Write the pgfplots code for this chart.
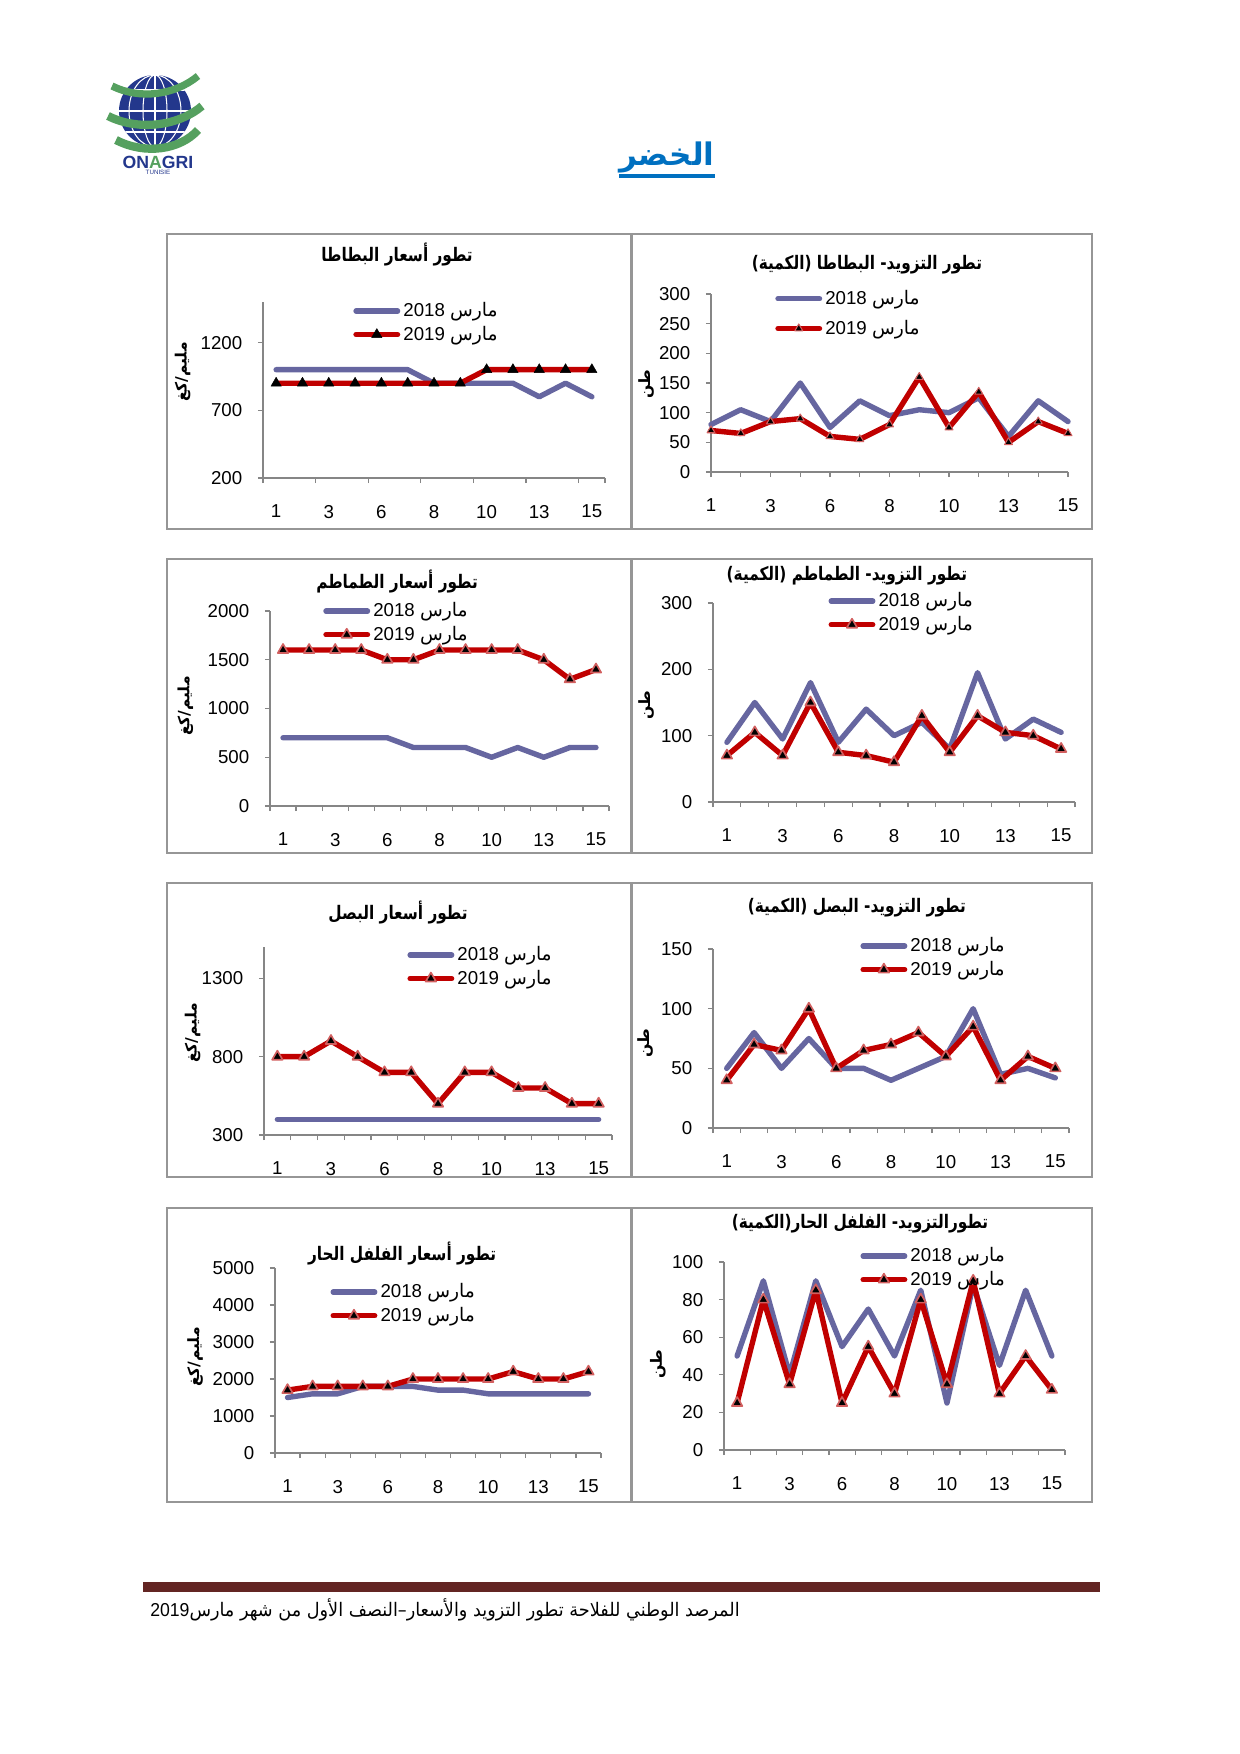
\documentclass[border=0pt]{standalone}
\usepackage{pgfplots}
\pgfplotsset{compat=1.18}
\usepackage{pgfplotstable}
\usepackage{fontspec}
\setmainfont{Liberation Sans}
\newfontfamily\arabicfont[Script=Arabic]{DejaVu Sans}
\TeXXeTstate=1

\definecolor{sblue}{RGB}{102,102,160}
\definecolor{sred}{RGB}{192,0,0}
\definecolor{mred}{RGB}{210,95,95}
\definecolor{axgray}{RGB}{134,134,134}
\definecolor{boxgray}{RGB}{150,150,150}
\definecolor{ttlblue}{RGB}{0,112,192}
\definecolor{barred}{RGB}{99,37,35}
\definecolor{onablue}{RGB}{35,55,140}
\definecolor{onagreen}{RGB}{85,160,95}

\newcommand{\mar}[1]{#1 {\arabicfont\beginR مارس\endR}}
\def\u{0.169355mm}

% days 1..15 (13 readings), labels on every other one
\pgfplotstableread{
i y18 y19
1 1000 900
2 1000 900
3 1000 900
4 1000 900
5 1000 900
6 1000 900
7 900 900
8 900 900
9 900 1000
10 900 1000
11 800 1000
12 900 1000
13 800 1000
}\tPotPrice
\pgfplotstableread{
i y18 y19
1 80 70
2 105 65
3 85 85
4 150 90
5 75 60
6 120 55
7 95 80
8 105 160
9 100 75
10 125 135
11 60 50
12 120 85
13 85 65
}\tPotSup
\pgfplotstableread{
i y18 y19
1 700 1600
2 700 1600
3 700 1600
4 700 1600
5 700 1500
6 600 1500
7 600 1600
8 600 1600
9 500 1600
10 600 1600
11 500 1500
12 600 1300
13 600 1400
}\tTomPrice
\pgfplotstableread{
i y18 y19
1 90 70
2 150 105
3 95 70
4 180 150
5 90 75
6 140 70
7 100 60
8 120 130
9 80 75
10 195 130
11 95 105
12 125 100
13 105 80
}\tTomSup
\pgfplotstableread{
i y18 y19
1 400 800
2 400 800
3 400 900
4 400 800
5 400 700
6 400 700
7 400 500
8 400 700
9 400 700
10 400 600
11 400 600
12 400 500
13 400 500
}\tOniPrice
\pgfplotstableread{
i y18 y19
1 50 40
2 80 70
3 50 65
4 75 100
5 50 50
6 50 65
7 40 70
8 50 80
9 60 60
10 100 85
11 45 40
12 50 60
13 42 50
}\tOniSup
\pgfplotstableread{
i y18 y19
1 1500 1700
2 1600 1800
3 1600 1800
4 1800 1800
5 1800 1800
6 1800 2000
7 1700 2000
8 1700 2000
9 1600 2000
10 1600 2200
11 1600 2000
12 1600 2000
13 1600 2200
}\tPepPrice
\pgfplotstableread{
i y18 y19
1 50 25
2 90 80
3 40 35
4 90 85
5 55 25
6 75 55
7 50 30
8 85 80
9 25 35
10 88 90
11 45 30
12 85 50
13 50 32
}\tPepSup

\pgfplotsset{
  base/.style={
    scale only axis, clip=false, anchor=south west,
    axis x line*=bottom, axis y line*=left,
    axis line style={draw=axgray, line width=0.6pt},
    tick style={draw=axgray, line width=0.6pt},
    tick align=outside, major tick length=2.5pt,
    tick label style={font=\fontsize{9}{10}\selectfont},
    /pgf/number format/assume math mode=true,
    /pgf/number format/1000 sep={},
    yticklabel style={xshift=-4pt},
    xticklabel style={yshift=-9.5pt},
    every axis title shift=0pt,
    title style={font=\arabicfont\bfseries\fontsize{9}{10}\selectfont,
      anchor=center, xscale=0.82},
    ylabel style={font=\arabicfont\bfseries\fontsize{7.5}{8}\selectfont, anchor=center},
    legend style={draw=none, fill=none, inner sep=0pt, anchor=north west,
      font=\fontsize{9}{10}\selectfont, row sep=2pt, column sep=1pt,
      nodes={inner sep=0.5pt, anchor=west}},
    legend cell align=left,
    legend image code/.code={\draw[mark repeat=2,mark phase=2,##1]
      plot coordinates {(0pt,0pt) (10pt,0pt) (20pt,0pt)};},
  },
  catA/.style={xmin=0.5, xmax=13.5,
    xtick={0.5,2.5,4.5,6.5,8.5,10.5,12.5,13.5}, xticklabels={},
    extra x ticks={1,3,5,7,9,11,13}, extra x tick labels={1,3,6,8,10,13,15},
    extra x tick style={major tick length=0pt}},
  catB/.style={xmin=0.5, xmax=13.5,
    xtick={0.5,1.5,...,13.5}, xticklabels={},
    extra x ticks={1,3,5,7,9,11,13}, extra x tick labels={1,3,6,8,10,13,15},
    extra x tick style={major tick length=0pt}},
  catC/.style={xmin=1, xmax=13, xtick={1,...,13},
    xticklabels={1,,3,,6,,8,,10,,13,,15}, xticklabel style={yshift=2.5pt}},
  s18/.style={sblue, line width=2.6pt, line cap=round, line join=round, no markers},
  s19/.style={sred, line width=2.6pt, line cap=round, line join=round,
    mark=triangle*, mark size=2.9pt,
    mark options={fill=black, draw=mred, line width=0.8pt, solid}},
}

\begin{document}
\begin{tikzpicture}
\fill[white] (0,0) rectangle (1240*\u,-1754*\u);
\path[use as bounding box] (0,0) rectangle (1240*\u,-1754*\u);

% logo
\fill[onablue] (155*\u,-111*\u) circle ({36*\u});
\begin{scope}
  \clip (155*\u,-111*\u) circle ({36*\u});
  \draw[white, line width=0.5pt] (155*\u,-111*\u) ellipse ({12*\u} and {36*\u});
  \draw[white, line width=0.5pt] (155*\u,-111*\u) ellipse ({26*\u} and {36*\u});
  \draw[white, line width=0.5pt] (155*\u,-75*\u) -- (155*\u,-147*\u);
  \foreach \yy in {90,111,132} \draw[white, line width=0.5pt] (115*\u,-\yy*\u) -- (195*\u,-\yy*\u);
\end{scope}
\draw[onagreen, line width=3.5pt] (112*\u,-86*\u) .. controls (140*\u,-100*\u) and (175*\u,-95*\u) .. (198*\u,-76*\u);
\draw[onagreen, line width=4pt] (108*\u,-116*\u) .. controls (140*\u,-132*\u) and (180*\u,-125*\u) .. (202*\u,-106*\u);
\draw[onagreen, line width=4pt] (116*\u,-140*\u) .. controls (145*\u,-155*\u) and (180*\u,-150*\u) .. (198*\u,-130*\u);
\node[font=\bfseries\fontsize{8.5}{9}\selectfont] at (158*\u,-162*\u)
  {\textcolor{onablue}{ON}\textcolor{onagreen}{A}\textcolor{onablue}{GRI}};
\node[font=\fontsize{3}{3}\selectfont, text=onablue] at (158*\u,-172*\u) {TUNISIE};

% page title
\node[text=ttlblue, font=\arabicfont\bfseries\fontsize{15}{18}\selectfont, inner sep=0pt]
  (T) at (667*\u,-157*\u) {\beginR الخضر\endR};
\draw[ttlblue, line width=2pt] ([yshift=-1.5pt]T.south west) -- ([yshift=-1.5pt]T.south east);

% panel frames
\foreach \ya/\yb in {234/529, 559/853, 883/1177, 1208/1502} {
  \draw[boxgray, line width=1.2pt] (167*\u,-\ya*\u) rectangle (631*\u,-\yb*\u);
  \draw[boxgray, line width=1.2pt] (632*\u,-\ya*\u) rectangle (1092*\u,-\yb*\u);
}

% row 1
\begin{axis}[base, catA, at={(263*\u,-478*\u)}, width=57.92mm, height=29.81mm,
  ymin=200, ymax=1500, ytick={200,700,1200},
  title={\beginR تطور أسعار البطاطا\endR}, title style={at={(axis description cs:0.392,1.267)}},
  ylabel={\beginR مليم/كغ\endR}, ylabel style={at={(axis description cs:-0.235,0.602)}},
  legend style={at={(axis description cs:0.263,1.006)}}]
\addplot[s18] table[x=i,y=y18] {\tPotPrice};
\addlegendentry{\mar{2018}}
\addplot[s19, mark options={fill=black, draw=black, line width=0.2pt}] table[x=i,y=y19] {\tPotPrice};
\addlegendentry{\mar{2019}}
\end{axis}

\begin{axis}[base, catC, at={(711*\u,-472*\u)}, width=60.46mm, height=30.14mm,
  ymin=0, ymax=300, ytick={0,50,...,300},
  title={\beginR تطور التزويد- البطاطا (الكمية)\endR}, title style={at={(axis description cs:0.437,1.163)}},
  ylabel={\beginR طن\endR}, ylabel style={at={(axis description cs:-0.182,0.494)}},
  legend style={at={(axis description cs:0.179,1.03)}, row sep=5pt}]
\addplot[s18] table[x=i,y=y18] {\tPotSup};
\addlegendentry{\mar{2018}}
\addplot[s19, mark size=2.2pt, mark options={fill=black, draw=mred, line width=0.5pt}] table[x=i,y=y19] {\tPotSup};
\addlegendentry{\mar{2019}}
\end{axis}

% row 2
\begin{axis}[base, catB, at={(270*\u,-806*\u)}, width=57.41mm, height=33.02mm,
  ymin=0, ymax=2000, ytick={0,500,...,2000},
  title={\beginR تطور أسعار الطماطم\endR}, title style={at={(axis description cs:0.375,1.149)}},
  ylabel={\beginR مليم/كغ\endR}, ylabel style={at={(axis description cs:-0.25,0.513)}},
  legend style={at={(axis description cs:0.156,1.051)}}]
\addplot[s18] table[x=i,y=y18] {\tTomPrice};
\addlegendentry{\mar{2018}}
\addplot[s19] table[x=i,y=y19] {\tTomPrice};
\addlegendentry{\mar{2019}}
\end{axis}

\begin{axis}[base, catB, at={(713*\u,-802*\u)}, width=61.31mm, height=33.70mm,
  ymin=0, ymax=300, ytick={0,100,200,300},
  title={\beginR تطور التزويد- الطماطم (الكمية)\endR}, title style={at={(axis description cs:0.370,1.136)}},
  ylabel={\beginR طن\endR}, ylabel style={at={(axis description cs:-0.185,0.487)}},
  legend style={at={(axis description cs:0.318,1.06)}}]
\addplot[s18] table[x=i,y=y18] {\tTomSup};
\addlegendentry{\mar{2018}}
\addplot[s19] table[x=i,y=y19] {\tTomSup};
\addlegendentry{\mar{2019}}
\end{axis}

% row 3
\begin{axis}[base, catB, at={(264*\u,-1135*\u)}, width=58.94mm, height=31.84mm,
  ymin=300, ymax=1500, ytick={300,800,1300},
  title={\beginR تطور أسعار البصل\endR}, title style={at={(axis description cs:0.385,1.186)}},
  ylabel={\beginR مليم/كغ\endR}, ylabel style={at={(axis description cs:-0.205,0.543)}},
  legend style={at={(axis description cs:0.411,1.011)}}]
\addplot[s18] table[x=i,y=y18] {\tOniPrice};
\addlegendentry{\mar{2018}}
\addplot[s19] table[x=i,y=y19] {\tOniPrice};
\addlegendentry{\mar{2019}}
\end{axis}

\begin{axis}[base, catB, at={(713*\u,-1128*\u)}, width=60.29mm, height=30.31mm,
  ymin=0, ymax=150, ytick={0,50,100,150},
  title={\beginR تطور التزويد- البصل (الكمية)\endR}, title style={at={(axis description cs:0.404,1.229)}},
  ylabel={\beginR طن\endR}, ylabel style={at={(axis description cs:-0.191,0.475)}},
  legend style={at={(axis description cs:0.413,1.073)}}]
\addplot[s18] table[x=i,y=y18] {\tOniSup};
\addlegendentry{\mar{2018}}
\addplot[s19] table[x=i,y=y19] {\tOniSup};
\addlegendentry{\mar{2019}}
\end{axis}

% row 4
\begin{axis}[base, catB, at={(275*\u,-1453*\u)}, width=55.21mm, height=31.33mm,
  ymin=0, ymax=5000, ytick={0,1000,...,5000},
  title={\beginR تطور أسعار الفلفل الحار\endR}, title style={at={(axis description cs:0.390,1.076)}},
  ylabel={\beginR مليم/كغ\endR}, ylabel style={at={(axis description cs:-0.245,0.519)}},
  legend style={at={(axis description cs:0.169,0.924)}}]
\addplot[s18] table[x=i,y=y18] {\tPepPrice};
\addlegendentry{\mar{2018}}
\addplot[s19] table[x=i,y=y19] {\tPepPrice};
\addlegendentry{\mar{2019}}
\end{axis}

\begin{axis}[base, catB, at={(724*\u,-1450*\u)}, width=57.75mm, height=31.84mm,
  ymin=0, ymax=100, ytick={0,20,...,100},
  title={\beginR تطورالتزويد- الفلفل الحار(الكمية)\endR}, title style={at={(axis description cs:0.399,1.202)}},
  ylabel={\beginR طن\endR}, ylabel style={at={(axis description cs:-0.194,0.457)}},
  legend style={at={(axis description cs:0.399,1.085)}}]
\addplot[s18] table[x=i,y=y18] {\tPepSup};
\addlegendentry{\mar{2018}}
\addplot[s19] table[x=i,y=y19] {\tPepSup};
\addlegendentry{\mar{2019}}
\end{axis}

% footer
\fill[barred] (143*\u,-1582*\u) rectangle (1100*\u,-1592*\u);
\node[anchor=east, font=\fontsize{9}{10}\selectfont, inner sep=0pt, xscale=0.945] at (740*\u,-1610*\u)
  {2019{\arabicfont\beginR المرصد الوطني للفلاحة تطور التزويد والأسعار–النصف الأول من شهر مارس\endR}};
\end{tikzpicture}
\end{document}
